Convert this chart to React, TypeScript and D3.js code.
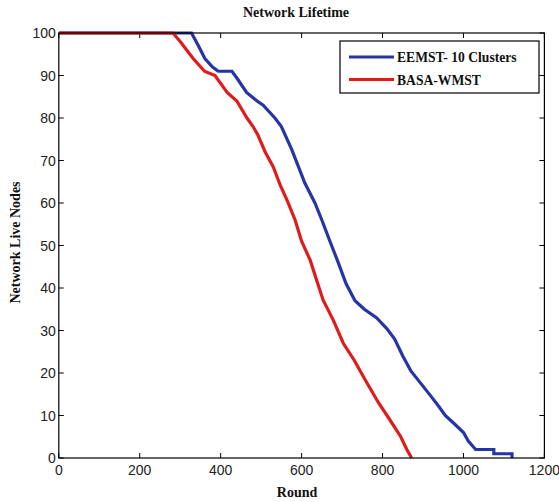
import React from "react";
import * as d3 from "d3";

const title = "Network Lifetime";
const xLabel = "Round";
const yLabel = "Network Live Nodes";
const xTicks = [0, 200, 400, 600, 800, 1000, 1200];
const yTicks = [0, 10, 20, 30, 40, 50, 60, 70, 80, 90, 100];

const seriesNames = ["EEMST- 10 Clusters", "BASA-WMST"];
const seriesColors = ["#2535a5", "#e01b1b"];

const eemstRounds = [0, 328, 345, 361, 380, 394, 428, 443, 464, 490, 505, 534, 550, 576, 608, 633, 650, 670, 688, 710, 732, 755, 785, 810, 830, 850, 870, 895, 920, 940, 955, 978, 1000, 1012, 1030, 1075, 1075, 1120, 1120];
const eemstNodes = [100, 100, 97, 94, 92, 91, 91, 89, 86, 84, 83, 80, 78, 72.5, 64.7, 60, 56, 51, 46.6, 41, 37, 35, 33, 30.5, 28, 24, 20.5, 17.5, 14.5, 12, 10, 8, 6, 4, 2, 2, 1, 1, 0];

const basaRounds = [0, 282, 300, 332, 360, 386, 416, 440, 465, 480, 492, 510, 530, 548, 564, 584, 600, 621, 640, 653, 678, 703, 730, 757, 790, 818, 845, 860, 872];
const basaNodes = [100, 100, 98, 94, 91, 90, 86, 84, 80, 78, 76, 72, 68.5, 64, 60.7, 56, 51, 46.6, 41, 37.2, 32.5, 27, 23, 18.4, 13, 9, 5, 2, 0];

const W = 559;
const H = 502;
const left = 58.8;
const right = 544.4;
const top = 33;
const bottom = 458;

export default function App() {
  const x = d3.scaleLinear().domain([0, 1200]).range([left, right]);
  const y = d3.scaleLinear().domain([0, 100]).range([bottom, top]);
  const line = d3
    .line<[number, number]>()
    .x((d) => x(d[0]))
    .y((d) => y(d[1]));
  const series = [
    eemstRounds.map((r, i) => [r, eemstNodes[i]] as [number, number]),
    basaRounds.map((r, i) => [r, basaNodes[i]] as [number, number]),
  ];
  const tickFont = "'Liberation Sans', Arial, sans-serif";
  const serif = "'Liberation Serif', 'Times New Roman', serif";
  const tl = 5;
  return (
    <svg
      width={W}
      height={H}
      style={{ position: "absolute", left: 0, top: 0, background: "#fff" }}
    >
      <rect x={0} y={0} width={W} height={H} fill="#fff" />
      <defs>
        <clipPath id="plot">
          <rect x={left} y={top - 3} width={right - left} height={bottom - top + 6} />
        </clipPath>
      </defs>
      {xTicks.map((t) => (
        <g key={"x" + t}>
          <line x1={x(t)} x2={x(t)} y1={bottom} y2={bottom - tl} stroke="#000" />
          <line x1={x(t)} x2={x(t)} y1={top} y2={top + tl} stroke="#000" />
          <text
            x={x(t)}
            y={bottom + 17}
            textAnchor="middle"
            fontFamily={tickFont}
            fontSize={14}
            fill="#222"
          >
            {t}
          </text>
        </g>
      ))}
      {yTicks.map((t) => (
        <g key={"y" + t}>
          <line x1={left} x2={left + tl} y1={y(t)} y2={y(t)} stroke="#000" />
          <line x1={right} x2={right - tl} y1={y(t)} y2={y(t)} stroke="#000" />
          <text
            x={left - 3}
            y={y(t) + 5}
            textAnchor="end"
            fontFamily={tickFont}
            fontSize={14}
            fill="#222"
          >
            {t}
          </text>
        </g>
      ))}
      <g clipPath="url(#plot)">
        {series.map((s, i) => (
          <path
            key={i}
            d={line(s) || ""}
            fill="none"
            stroke={seriesColors[i]}
            strokeWidth={3.2}
            strokeLinejoin="miter"
          />
        ))}
      </g>
      <rect
        x={left}
        y={top}
        width={right - left}
        height={bottom - top}
        fill="none"
        stroke="#000"
        strokeWidth={1.2}
      />
      <rect x={340} y={41} width={199} height={52} fill="#fff" stroke="#000" strokeWidth={1.2} />
      {seriesNames.map((n, i) => (
        <g key={n}>
          <line
            x1={349}
            x2={394}
            y1={57 + i * 22.5}
            y2={57 + i * 22.5}
            stroke={seriesColors[i]}
            strokeWidth={3.2}
          />
          <text
            x={397}
            y={57 + i * 22.5 + 5}
            fontFamily={serif}
            fontWeight="bold"
            fontSize={13.6}
            fill="#111"
          >
            {n}
          </text>
        </g>
      ))}
      <text
        x={296}
        y={17}
        textAnchor="middle"
        fontFamily={serif}
        fontWeight="bold"
        fontSize={14}
        fill="#111"
      >
        {title}
      </text>
      <text
        x={297}
        y={497}
        textAnchor="middle"
        fontFamily={serif}
        fontWeight="bold"
        fontSize={14}
        fill="#111"
      >
        {xLabel}
      </text>
      <text
        transform={`translate(20,${(top + bottom) / 2 - 3}) rotate(-90)`}
        textAnchor="middle"
        fontFamily={serif}
        fontWeight="bold"
        fontSize={14}
        fill="#111"
      >
        {yLabel}
      </text>
    </svg>
  );
}
